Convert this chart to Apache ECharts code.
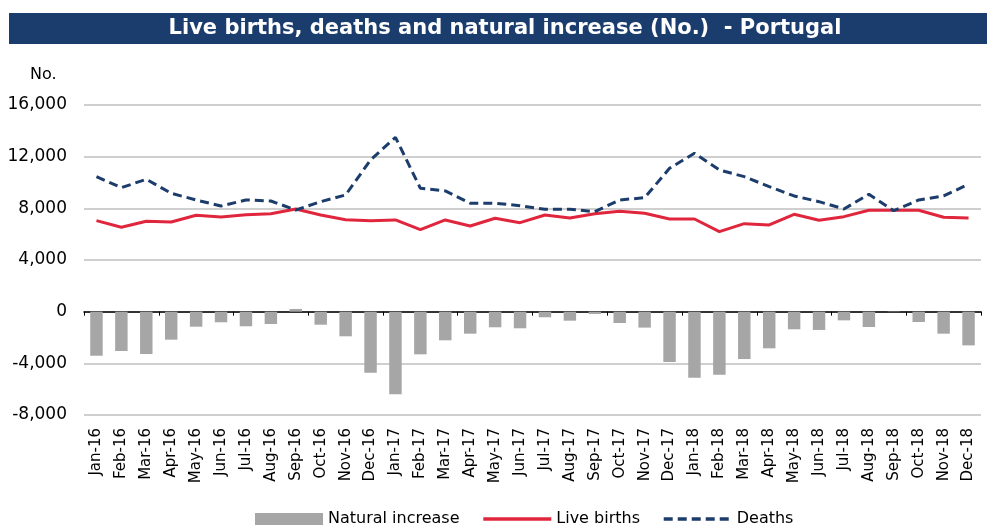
<!DOCTYPE html>
<html><head><meta charset="utf-8">
<script src="https://cdn.jsdelivr.net/npm/echarts@6/dist/echarts.min.js"></script>
<style>html,body{margin:0;padding:0;background:#fff}#c{width:987px;height:525px}</style>
</head><body><div id="c"></div>
<script>
const categories = ['Jan-16','Feb-16','Mar-16','Apr-16','May-16','Jun-16','Jul-16','Aug-16','Sep-16','Oct-16','Nov-16','Dec-16',
 'Jan-17','Feb-17','Mar-17','Apr-17','May-17','Jun-17','Jul-17','Aug-17','Sep-17','Oct-17','Nov-17','Dec-17',
 'Jan-18','Feb-18','Mar-18','Apr-18','May-18','Jun-18','Jul-18','Aug-18','Sep-18','Oct-18','Nov-18','Dec-18'];
const liveBirths = [7045,6534,6998,6944,7463,7332,7510,7587,7951,7487,7123,7045,
 7100,6348,7100,6635,7230,6890,7487,7254,7587,7773,7618,7177,
 7177,6194,6813,6712,7540,7076,7355,7850,7850,7850,7308,7254];
const deaths = [10452,9600,10250,9166,8648,8183,8648,8570,7873,8516,9035,11745,
 13500,9553,9345,8392,8392,8206,7928,7928,7742,8648,8826,11100,
 12263,10970,10452,9678,8958,8516,7951,9090,7820,8648,8958,9863];
const naturalIncrease = [-3411,-3047,-3280,-2170,-1163,-822,-1132,-953,209,-1008,-1907,-4729,
 -6403,-3302,-2217,-1705,-1209,-1287,-434,-698,-178,-876,-1234,-3899,
 -5116,-4884,-3667,-2837,-1364,-1416,-672,-1188,-30,-800,-1705,-2610];
const yTicks = {min:-8000, max:16000, interval:4000};
const titleText = 'Live births, deaths and natural increase (No.)  - Portugal';

const FONT = 'DejaVu Sans';
const chart = echarts.init(document.getElementById('c'));
chart.setOption({
  animation:false,
  textStyle:{fontFamily:FONT},
  graphic:[
    {type:'rect', shape:{x:9,y:13,width:978,height:31}, style:{fill:'#1b3d6e'}},
    {type:'text', x:505, y:29, style:{text:titleText, fill:'#fff', font:'bold 21px "DejaVu Sans"', textAlign:'center', textVerticalAlign:'middle'}},
    {type:'text', x:30, y:75, style:{text:'No.', fill:'#000', font:'16px "DejaVu Sans"', textVerticalAlign:'middle'}}
  ],
  grid:{left:84, right:6, top:105, bottom:110},
  legend:{
    bottom:-7, left:250, itemWidth:68, itemHeight:12, itemGap:22,
    textStyle:{fontSize:16, color:'#000', fontFamily:FONT},
    data:[{name:'Natural increase', icon:'rect'},
          {name:'Live births', itemStyle:{opacity:0}, lineStyle:{width:3.5}},
          {name:'Deaths', itemStyle:{opacity:0}, lineStyle:{width:3.5}}]
  },
  xAxis:[
    {type:'category', data:categories, position:'bottom',
     axisLine:{onZero:true, lineStyle:{color:'#000', width:1.5}},
     axisTick:{show:true, length:4, lineStyle:{color:'#000'}},
     axisLabel:{show:false}},
    {type:'category', data:categories, position:'bottom',
     axisLine:{show:false, onZero:false}, axisTick:{show:false},
     axisLabel:{rotate:90, fontSize:15, color:'#000', margin:13, interval:0, fontFamily:FONT}}
  ],
  yAxis:{type:'value', min:yTicks.min, max:yTicks.max, interval:yTicks.interval,
    axisLine:{show:false}, axisTick:{show:false},
    axisLabel:{fontSize:17, color:'#000', margin:17, fontFamily:FONT,
      formatter:v=>v.toLocaleString('en-US')},
    splitLine:{lineStyle:{color:'#bfbfbf', width:1.5}}},
  series:[
    {name:'Natural increase', type:'bar', data:naturalIncrease, barWidth:'50%', itemStyle:{color:'#a6a6a6'}},
    {name:'Live births', type:'line', data:liveBirths, symbol:'none', lineStyle:{color:'#e0263d', width:3}, itemStyle:{color:'#e0263d'}},
    {name:'Deaths', type:'line', data:deaths, symbol:'none', lineStyle:{color:'#1c3d6c', width:3, type:[9,5]}, itemStyle:{color:'#1c3d6c'}}
  ]
});
</script></body></html>
